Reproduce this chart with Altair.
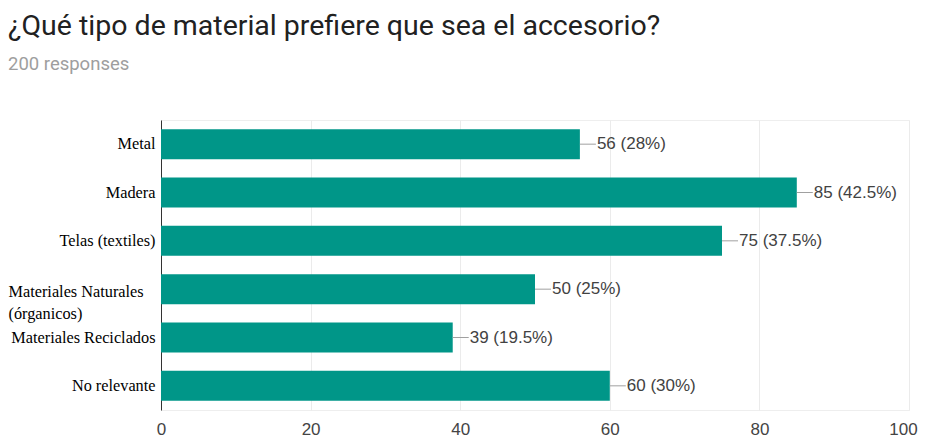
import altair as alt
import pandas as pd

categories = ["Metal", "Madera", "Telas (textiles)", "Materiales Naturales (órganicos)",
              "Materiales Reciclados", "No relevante"]
counts = [56, 85, 75, 50, 39, 60]
total_responses = 200
x_ticks = [0, 20, 40, 60, 80, 100]

df = pd.DataFrame({
    "cat": categories,
    "count": counts,
    "label": [f"{c} ({c * 100 / total_responses:g}%)" for c in counts],
})

long_cat = "Materiales Naturales (órganicos)"

y_enc = alt.Y(
    "cat:N",
    sort=categories,
    title=None,
    scale=alt.Scale(paddingInner=0.38, paddingOuter=0.19),
    axis=alt.Axis(
        domainColor="#333333",
        ticks=False,
        grid=False,
        labelFont="Liberation Serif",
        labelFontSize=16.3,
        labelColor="#000000",
        labelLimit=300,
        labelLineHeight=22,
        labelPadding={"condition": {"test": f"datum.value == '{long_cat}'", "value": 153}, "value": 6},
        labelAlign={"condition": {"test": f"datum.value == '{long_cat}'", "value": "left"}, "value": "right"},
        labelOffset={"condition": {"test": f"datum.value == '{long_cat}'", "value": 3}, "value": 0},
        labelExpr=f"datum.value == '{long_cat}' ? ['Materiales Naturales', '(órganicos)'] : datum.value",
    ),
)

x_enc = alt.X(
    "count:Q",
    title=None,
    scale=alt.Scale(domain=[0, 100], nice=False),
    axis=alt.Axis(
        values=x_ticks,
        domain=False,
        ticks=False,
        grid=True,
        gridColor="#ebebeb",
        labelFont="Liberation Sans",
        labelFontSize=17,
        labelColor="#444444",
        labelPadding=11,
        labelFlush=False,
        labelOffset={"condition": {"test": "datum.value == 100", "value": -6}, "value": 0},
    ),
)

bars = alt.Chart(df).mark_bar(color="#009688").encode(x=x_enc, y=y_enc)

connectors = alt.Chart(df).mark_rule(color="#a0a0a0", strokeWidth=1, x2Offset=16).encode(
    x="count:Q", x2="count:Q", y=alt.Y("cat:N", sort=categories)
)

values = alt.Chart(df).mark_text(
    align="left", baseline="middle", dx=17, font="Liberation Sans", fontSize=17, color="#424242"
).encode(x="count:Q", y=alt.Y("cat:N", sort=categories), text="label:N")

chart = alt.layer(bars, connectors, values).properties(
    width=748,
    height=290,
    padding={"left": 153, "top": 112, "right": 9, "bottom": 30},
    autosize=alt.AutoSizeParams(type="none"),
    title=alt.TitleParams(
        text="¿Qué tipo de material prefiere que sea el accesorio?",
        subtitle="200 responses",
        anchor="start",
        offset=47,
        font="Roboto",
        fontSize=28.5,
        fontWeight="normal",
        color="#212121",
        subtitleFont="Roboto",
        subtitleFontSize=18.5,
        subtitleColor="#9e9e9e",
        subtitlePadding=14,
    ),
).configure_view(stroke="#eeeeee")

chart.save("out.html", embed_options={"renderer": "svg", "actions": False})
